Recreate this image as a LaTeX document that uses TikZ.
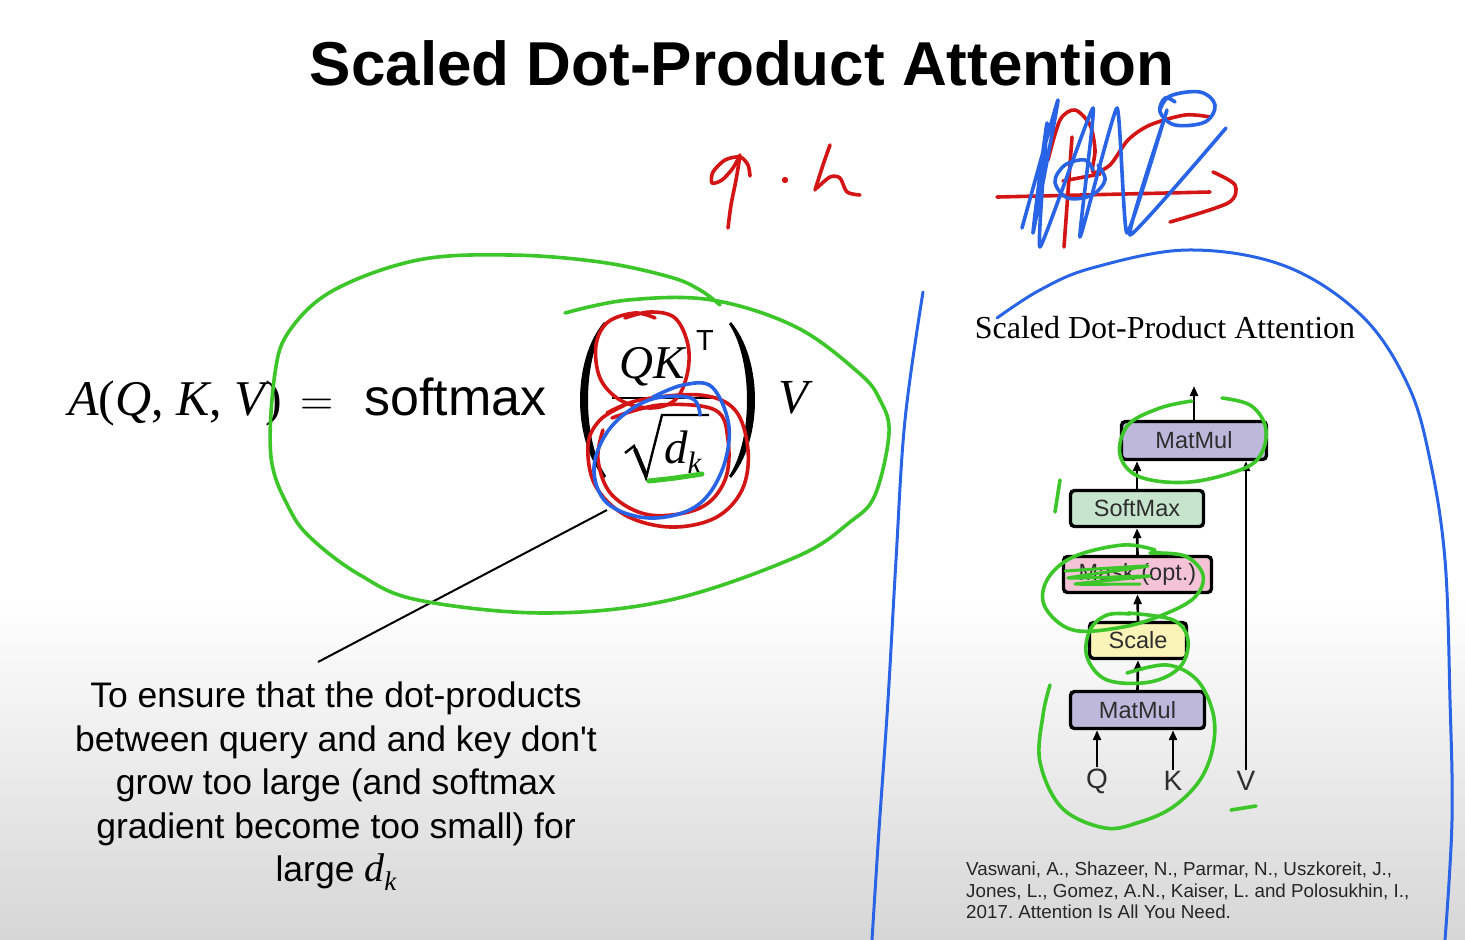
\documentclass[tikz,border=0pt]{standalone}
\usepackage{fix-cm}
\usepackage{fontspec}
\setmainfont{Liberation Sans}
\newfontfamily\plainsans{Liberation Sans}
\newfontfamily\timesfont{Liberation Serif}
\usetikzlibrary{arrows.meta}

\newcommand{\tvar}[1]{{\timesfont\itshape #1}}

\definecolor{penGreen}{HTML}{3CC62A}
\definecolor{penRed}{HTML}{D41515}
\definecolor{penBlue}{HTML}{2A64E6}
\definecolor{mmFill}{HTML}{BEB8DC}
\definecolor{smFill}{HTML}{C6E5CC}
\definecolor{mkFill}{HTML}{F4C4D6}
\definecolor{scFill}{HTML}{FAF4B8}
\definecolor{slideGray}{HTML}{D6D6D6}

\tikzset{
  ink/.style={line width=3.6pt, line cap=round, line join=round},
  greenpen/.style={ink, draw=penGreen},
  redpen/.style={ink, draw=penRed},
  bluepen/.style={ink, draw=penBlue},
  opbox/.style={draw=black, line width=3.4pt, rounded corners=4pt, inner sep=0pt,
    font=\fontsize{23.5}{26}\selectfont, text=black!82},
  flow/.style={-{Triangle[length=10pt,width=8pt]}, line width=2.6pt},
  io/.style={font=\fontsize{28}{30}\selectfont, text=black!82, inner sep=1pt},
  leader/.style={line width=2pt, draw=black},
  mathpart/.style={inner sep=0pt}
}

\begin{document}
\frenchspacing
\begin{tikzpicture}[x=1pt,y=-1pt]
\useasboundingbox (0,0) rectangle (1465,940);
% slide background: white, fading to grey at the bottom
\fill[white] (0,0) rectangle (1465,600);
\shade[top color=white, bottom color=slideGray] (0,599) rectangle (1465,940);

% title
\node[anchor=base, font=\fontsize{62}{70}\selectfont\bfseries] (title) at (742,85) {Scaled Dot-Product Attention};

% attention formula
\node[mathpart, anchor=base west, font=\fontsize{50}{56}\selectfont\timesfont] (lhs) at (68,415)
  {\tvar{A}(\tvar{Q}, \tvar{K}, \tvar{V})};
\node[mathpart, anchor=base west, font=\fontsize{46}{52}\selectfont] (eq) at (300,415) {$=$};
\node[mathpart, anchor=base west, font=\fontsize{52}{58}\selectfont] (softmax) at (364,415) {softmax};
% big parentheses
\fill (604,322) .. controls (572,360) and (572,440) .. (604,478)
  -- (606,476) .. controls (582,440) and (582,360) .. (606,324) -- cycle;
\fill (731,322) .. controls (763,360) and (763,440) .. (731,478)
  -- (729,476) .. controls (753,440) and (753,360) .. (729,324) -- cycle;
% fraction QK^T / sqrt(d_k)
\node[mathpart, anchor=base west, font=\fontsize{47}{52}\selectfont] (num) at (619,378) {\tvar{QK}};
\node[mathpart, anchor=base west, font=\fontsize{29}{32}\selectfont\plainsans] (sup) at (696,350) {T};
\draw[line width=2.8pt] (612,398) -- (721,398);
\draw[line width=2.4pt, line join=miter] (625,453) -- (634,446) -- (646,478) -- (662,415) -- (709,415);
\draw[line width=4.2pt] (635,449) -- (645,473);
\node[mathpart, anchor=base west, font=\fontsize{47}{52}\selectfont] (den) at (664,463)
  {\tvar{d}\raisebox{-0.22em}{\fontsize{31}{32}\selectfont\tvar{k}}};
\node[mathpart, anchor=base west, font=\fontsize{49}{54}\selectfont] (vv) at (778,413) {\tvar{V}};

% explanation of the scaling
\node[anchor=north, align=center, inner sep=0pt, font=\fontsize{35.5}{43.5}\selectfont\plainsans] (why) at (336,682)
  {To ensure that the dot-products\\between query and and key don't\\grow too large (and softmax\\gradient become too small) for\\large {\fontsize{40}{43.5}\selectfont\tvar{d}\raisebox{-0.22em}{\fontsize{27}{28}\selectfont\tvar{k}}}};
\coordinate (dkpt) at (607,510);
\coordinate (lead) at (318,662);
\draw[leader] (dkpt) -- (lead);

% block diagram
\node[anchor=base, font=\fontsize{32}{36}\selectfont\timesfont] (dtitle) at (1165,338) {Scaled Dot-Product Attention};
\node[opbox, fill=mmFill, minimum width=145pt, minimum height=38pt] (mm2) at (1194,440.5) {MatMul};
\node[opbox, fill=smFill, minimum width=133pt, minimum height=36pt] (sm) at (1137,508.5) {SoftMax};
\node[opbox, fill=mkFill, minimum width=148pt, minimum height=36pt] (mk) at (1137.5,574.5) {Mask (opt.)};
\node[opbox, fill=scFill, minimum width=97pt, minimum height=36pt] (sc) at (1138,640.5) {Scale};
\node[opbox, fill=mmFill, minimum width=134pt, minimum height=37pt] (mm1) at (1137.5,710) {MatMul};
\node[io] (Qn) at (1097,781) {Q};
\node[io] (Kn) at (1173,781) {K};
\node[io] (Vn) at (1246,781) {V};
\coordinate (out) at (1194,386);

\draw[flow] (Qn.north) -- (Qn.north |- mm1.south);
\draw[flow] (Kn.north) -- (Kn.north |- mm1.south);
\draw[flow] (mm1.north) -- (sc.south);
\draw[flow] (sc.north) -- (mk.south);
\draw[flow] (mk.north) -- (sm.south);
\draw[flow] (sm.north) -- (sm.north |- mm2.south);
\draw[flow] (Vn.north) -- (Vn.north |- mm2.south);
\draw[flow] (mm2.north) -- (out);

% reference
\node[anchor=north west, align=left, inner sep=0pt, font=\fontsize{18.8}{21.5}\selectfont, text=black!85] (cite) at (966,862)
  {Vaswani, A., Shazeer, N., Parmar, N., Uszkoreit, J.,\\Jones, L., Gomez, A.N., Kaiser, L. and Polosukhin, I.,\\2017. Attention Is All You Need.};

% ---- pen annotations ----
% green loop around the formula
\draw[greenpen] plot[smooth, tension=0.6] coordinates {(720,305) (700,290) (670,277) (600,262) (510,255) (418,260) (334,290) (290,330) (275,373) (271,457) (290,510) (313,540) (360,575) (418,600) (544,613) (670,600) (796,557) (850,522) (875,495) (889,433) (880,400) (859,373) (796,327) (712,300) (628,300) (565,313)};
% red loop around QK
\draw[redpen] plot[smooth, tension=0.6] coordinates {(625,318) (650,312) (675,318) (688,345) (687,375) (675,400) (650,408) (620,400) (600,378) (596,345) (608,322) (635,313) (655,318)};
% red loops around sqrt(d_k)
\draw[redpen] plot[smooth, tension=0.6] coordinates {(607,413) (640,400) (700,395) (735,410) (748,450) (742,490) (715,518) (670,527) (625,515) (595,485) (588,445) (600,420) (625,405)};
\draw[redpen] plot[smooth, tension=0.6] coordinates {(612,418) (660,405) (715,410) (728,440) (725,480) (700,508) (650,515) (612,495) (598,460) (603,430)};
% blue loop around sqrt(d_k)
\draw[bluepen] plot[smooth, tension=0.6] coordinates {(700,415) (691,398) (649,400) (611,427) (594,467) (607,503) (649,518) (695,507) (721,473) (729,427) (712,387) (683,385) (653,397)};
% green underline below d_k
\draw[greenpen, line width=5pt] plot[smooth] coordinates {(649,481) (675,478) (702,474)};

% red "q . k"
\draw[redpen] plot[smooth, tension=0.5] coordinates {(750,176) (748,165) (740,157) (725,160) (713,172) (712,183) (722,180) (733,168) (740,155)};
\draw[redpen] plot[smooth, tension=0.5] coordinates {(740,156) (736,180) (731,205) (728,228)};
\fill[penRed] (785,180) circle (3.2pt);
\draw[redpen] plot[smooth, tension=0.5] coordinates {(830,145) (823,165) (815,190)};
\draw[redpen] plot[smooth, tension=0.5] coordinates {(817,188) (830,177) (840,178) (847,192) (860,195)};

% red and blue scribble, top right
\draw[redpen] (997,197) -- (1210,192);
\draw[redpen] (1072,137) -- (1064,247);
\draw[redpen] plot[smooth, tension=0.5] coordinates {(1048,160) (1060,120) (1075,110) (1090,125) (1095,150) (1093,172) (1110,165) (1128,140) (1150,125) (1185,115) (1210,117)};
\draw[redpen] (1063,181) -- (1100,174);
\draw[redpen] plot[smooth, tension=0.5] coordinates {(1213,172) (1235,185) (1228,203) (1170,222)};
\draw[bluepen] plot[smooth, tension=0.25] coordinates {(1022,228) (1058,100) (1033,233) (1047,123) (1040,247) (1093,108) (1080,237) (1117,108) (1127,233) (1167,110) (1130,235) (1226,128)};
\draw[bluepen] plot[smooth, tension=0.6] coordinates {(1093,170) (1085,160) (1065,165) (1055,182) (1068,198) (1092,195) (1105,180) (1098,165)};
\draw[bluepen] plot[smooth, tension=0.6] coordinates {(1175,102) (1165,98) (1160,112) (1175,125) (1205,122) (1215,105) (1200,92) (1170,96) (1160,110)};

% blue outline around the block diagram
\draw[bluepen, line width=3pt] plot[smooth, tension=0.6] coordinates {(923,292) (905,420) (896,560) (888,700) (879,830) (872,940)};
\draw[bluepen, line width=3pt] plot[smooth, tension=0.6] coordinates {(997,318) (1040,290) (1092,268) (1188,250) (1285,266) (1362,316) (1408,385) (1430,460) (1445,560) (1450,700) (1452,820) (1445,940)};

% green marks on the block diagram
\draw[greenpen] plot[smooth, tension=0.6] coordinates {(1222,398) (1250,405) (1265,425) (1263,450) (1245,468) (1190,482) (1140,477) (1120,455) (1128,425) (1160,408) (1192,401)};
\draw[greenpen] (1060,480) -- (1055,512);
\draw[greenpen] plot[smooth, tension=0.6] coordinates {(1150,553) (1185,556) (1203,575) (1195,597) (1165,614) (1123,627) (1073,630) (1045,607) (1047,580) (1073,557) (1123,545) (1155,550)};
\draw[greenpen, line width=3pt] plot[smooth, tension=0.3] coordinates {(1065,571) (1148,566) (1068,578) (1150,576) (1075,584) (1140,584)};
\draw[greenpen] plot[smooth, tension=0.6] coordinates {(1128,613) (1173,620) (1188,640) (1180,667) (1150,682) (1107,680) (1087,657) (1090,630) (1107,615) (1130,614)};
\draw[greenpen] plot[smooth, tension=0.6] coordinates {(1127,673) (1167,665) (1197,680) (1213,713) (1213,747) (1200,780) (1173,807) (1140,822) (1105,828) (1062,808) (1040,762) (1043,715) (1050,685)};
\draw[greenpen] (1231,810) -- (1256,806);
\end{tikzpicture}
\end{document}
